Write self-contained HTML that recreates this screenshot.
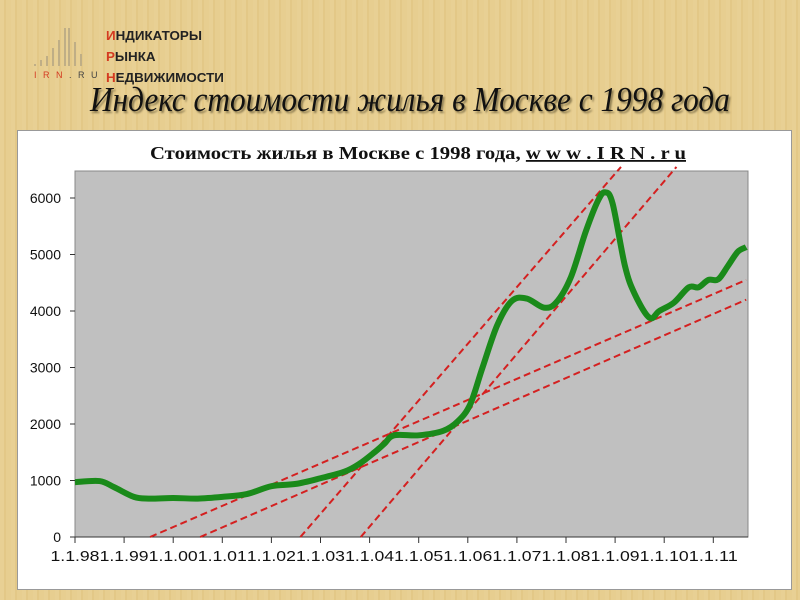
<!DOCTYPE html>
<html><head><meta charset="utf-8"><style>
body{margin:0;width:800px;height:600px;overflow:hidden;background:#e6cd8e;font-family:"Liberation Sans",sans-serif}
.bg{position:absolute;left:0;top:0;width:800px;height:600px;background:repeating-linear-gradient(90deg,#e8d094 0 4px,#e3c887 4px 6px,#e7ce90 6px 11px)}
.logo{position:absolute;left:106px;top:25px;font-weight:bold;font-size:13px;line-height:21px;color:#222;transform:scaleX(1.03);transform-origin:left}
.logo b{color:#d43a20}
.irn{position:absolute;left:34px;top:70px;font-size:9px;letter-spacing:2px;color:#444;white-space:nowrap}
.title{position:absolute;left:90px;top:80px;white-space:nowrap;font-family:"Liberation Serif",serif;font-style:italic;font-size:35px;color:#111;text-shadow:2px 2px 2px #8a7a50;transform:scaleX(0.895);transform-origin:left}
.panel{position:absolute;left:17px;top:130px;width:773px;height:458px;background:#fff;border:1px solid #999}
</style></head><body>
<div class="bg"></div>
<svg width="60" height="70" style="position:absolute;left:30px;top:20px">
<g fill="#bfae86">
<rect x="4" y="44" width="2" height="2"/><rect x="10" y="40" width="2" height="6"/><rect x="16" y="36" width="2" height="10"/>
<rect x="22" y="28" width="2" height="18"/><rect x="28" y="20" width="2" height="26"/><rect x="34" y="8" width="2" height="38"/>
<rect x="38" y="8" width="2" height="38"/><rect x="44" y="22" width="2" height="24"/><rect x="50" y="34" width="2" height="12"/>
</g></svg>
<div class="logo"><b>И</b>НДИКАТОРЫ<br><b>Р</b>ЫНКА<br><b>Н</b>ЕДВИЖИМОСТИ</div>
<div class="irn"><span style="color:#d43a20">I R N</span> . R U</div>
<div class="title">Индекс стоимости жилья в Москве с 1998 года</div>
<div class="panel"></div>
<svg id="c" width="800" height="600" style="position:absolute;left:0;top:0">
<text x="150" y="159" font-family="Liberation Serif" font-weight="bold" font-size="18" fill="#111" textLength="536" lengthAdjust="spacingAndGlyphs">Стоимость жилья в Москве с 1998 года, <tspan text-decoration="underline">w w w . I R N . r u</tspan></text>
<rect x="75" y="171" width="673" height="366" fill="#c0c0c0" stroke="#888"/>
<g id="g"></g>
</svg>
<script>
const xLabels=["1.1.98","1.1.99","1.1.00","1.1.01","1.1.02","1.1.03","1.1.04","1.1.05","1.1.06","1.1.07","1.1.08","1.1.09","1.1.10","1.1.11"];
const yTicks=[0,1000,2000,3000,4000,5000,6000];
const years=[1998,1998.5,1998.8,1999.2,1999.5,2000,2000.5,2001,2001.5,2002,2002.5,2003,2003.5,2003.8,2004.1,2004.3,2004.5,2005,2005.5,2005.8,2006.05,2006.3,2006.6,2006.9,2007.2,2007.55,2007.8,2008.1,2008.4,2008.65,2008.8,2008.95,2009.2,2009.4,2009.7,2009.9,2010.2,2010.5,2010.7,2010.9,2011.1,2011.3,2011.5,2011.67];
const prices=[970,990,880,710,680,690,680,710,760,900,940,1040,1160,1300,1500,1650,1800,1800,1880,2050,2350,3000,3750,4180,4220,4060,4150,4600,5400,5950,6100,5900,4800,4300,3880,4000,4150,4420,4420,4550,4560,4800,5050,5130];
const trendX1=[1999.53,2000.55,2002.59,2003.82];
const trendX2=[2011.67,2011.67,2009.12,2010.25];
const trendY2=[4550,4200,6550,6550];
const X=v=>75+(v-1998)*49.1, Y=v=>537-v*0.0565;
const g=document.getElementById('g'),NS='http://www.w3.org/2000/svg';
function mk(t,a){const e=document.createElementNS(NS,t);for(const k in a)e.setAttribute(k,a[k]);g.appendChild(e);return e;}
yTicks.forEach(v=>{const l=mk('line',{x1:70,x2:75,y1:Y(v),y2:Y(v),stroke:'#333'});


const t=mk('text',{x:61,y:Y(v)+5,'text-anchor':'end','font-size':14,fill:'#111'});t.textContent=v;

});
mk('line',{x1:75,x2:748,y1:537,y2:537,stroke:'#333'});
xLabels.forEach((s,i)=>{const x=X(1998+i);const l=mk('line',{x1:x,x2:x,y1:537,y2:543,stroke:'#333'});


const t=mk('text',{x:x,y:561,'text-anchor':'middle','font-size':15,fill:'#111',textLength:49,lengthAdjust:'spacingAndGlyphs'});t.textContent=s;

});
trendX1.forEach((x1,i)=>{const l=mk('line',{x1:X(x1),y1:Y(0),x2:X(trendX2[i]),y2:Y(trendY2[i]),stroke:'#d42020','stroke-width':2,'stroke-dasharray':'7,4'});

});
const pts=years.map((y,i)=>[X(y),Y(prices[i])]);
let d='M'+pts[0];
for(let i=0;i<pts.length-1;i++){const p0=pts[Math.max(0,i-1)],p1=pts[i],p2=pts[i+1],p3=pts[Math.min(pts.length-1,i+2)];
d+=` C${p1[0]+(p2[0]-p0[0])/6},${p1[1]+(p2[1]-p0[1])/6} ${p2[0]-(p3[0]-p1[0])/6},${p2[1]-(p3[1]-p1[1])/6} ${p2[0]},${p2[1]}`;}
const p=mk('path',{d:d,fill:'none',stroke:'#1a8a1a','stroke-width':6,'stroke-linejoin':'round'});


</script>
</body></html>
